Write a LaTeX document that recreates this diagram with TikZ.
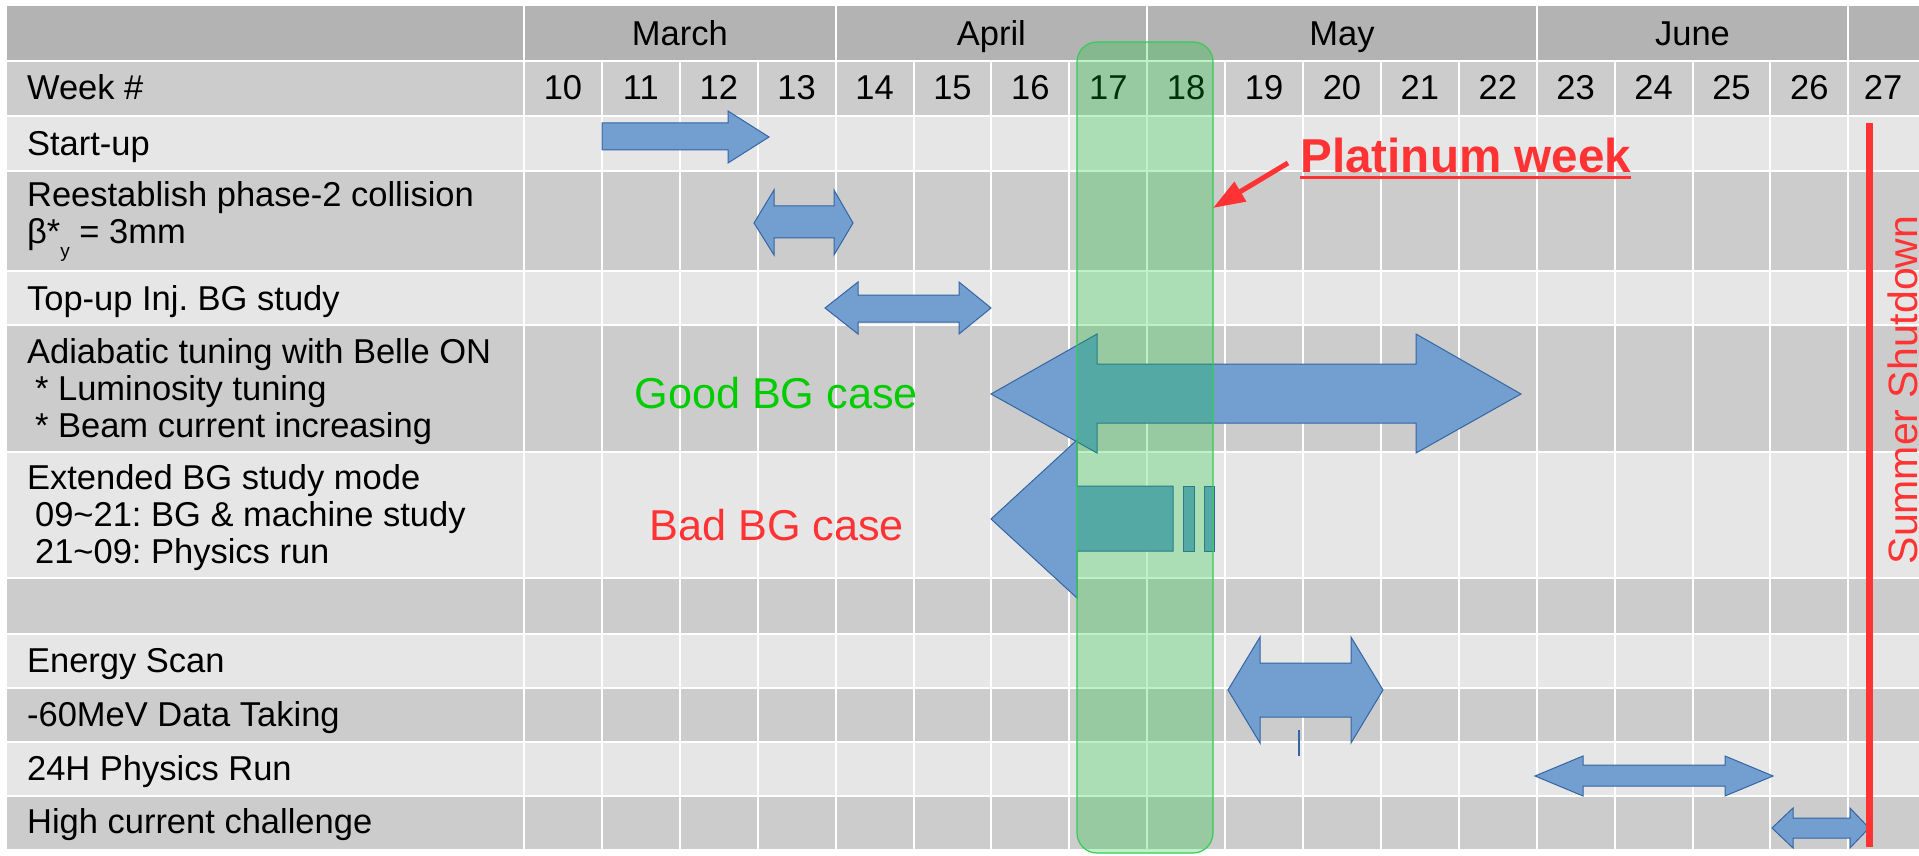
\documentclass[tikz,border=0pt]{standalone}
\usepackage{fontspec}
\setmainfont{Liberation Sans}
\usepackage{tikz}
\usetikzlibrary{arrows.meta}
\frenchspacing

\definecolor{monthgray}{HTML}{B3B3B3}
\definecolor{darkrow}{HTML}{CCCCCC}
\definecolor{lightrow}{HTML}{E6E6E6}
\definecolor{taskblue}{HTML}{729FCF}
\definecolor{taskedge}{HTML}{3465A4}
\definecolor{platgreen}{HTML}{00C828}
\definecolor{platedge}{HTML}{33CC55}
\definecolor{alertred}{HTML}{FF3333}
\definecolor{goodgreen}{HTML}{00CC00}

\begin{document}
\begin{tikzpicture}[x=0.5pt,y=-0.5pt,inner sep=0pt,line join=miter]
                  \tikzstyle{every node}=[font=\fontsize{17.25}{18.5}\selectfont]
                  \tikzstyle{rowlabel}=[anchor=base west,align=left]
                  \tikzstyle{colhead}=[anchor=base]
                  \tikzstyle{gridline}=[white,line width=1pt]
                  \tikzstyle{task}=[fill=taskblue,draw=taskedge,line width=0.5pt]
                  \tikzstyle{band}=[fill=platgreen,fill opacity=0.25,draw=platedge,line width=0.6pt,rounded corners=10pt]
                  \tikzstyle{casetext}=[anchor=base west,font=\fontsize{21.6}{23}\selectfont]

                  \useasboundingbox (0,0) rectangle (1919,856);

                  % rows
                  \fill[monthgray] (7,6) rectangle (1919,61);
                  \fill[darkrow] (7,61) rectangle (1919,116);
                  \foreach \ya/\yb/\rc in {116/171/lightrow,171/271/darkrow,271/325/lightrow,325/452/darkrow,452/578/lightrow,578/634/darkrow,634/688/lightrow,688/742/darkrow,742/796/lightrow,796/849/darkrow}
                    \fill[\rc] (7,\ya) rectangle (1919,\yb);

                  % grid
                  \foreach \y in {61,116,171,271,325,452,578,634,688,742,796}
                    \draw[gridline] (7,\y) -- (1919,\y);
                  \foreach \k in {1,...,17}
                    \draw[gridline] ({524+\k*77.9},61) -- ({524+\k*77.9},849);
                  \foreach \k in {0,4,8,13,17}
                    \draw[gridline] ({524+\k*77.9},6) -- ({524+\k*77.9},849);

                  % months and weeks
                  \node[colhead] (Mar) at (679.8,46) {March};
                  \node[colhead] (Apr) at (991.4,46) {April};
                  \node[colhead] (May) at (1342,46) {May};
                  \node[colhead] (Jun) at (1692.5,46) {June};
                  \foreach \w [count=\k from 0] in {10,...,26}
                    \node[colhead] (W\w) at ({524+(\k+0.5)*77.9},100) {\w};
                  \node[colhead] (W27) at (1883,100) {27};

                  % tasks (multi-line labels sit on their last baseline)
                  \node[rowlabel] (Week) at (26.7,100) {Week \#};
                  \node[rowlabel] (Start) at (26.7,155.5) {Start-up};
                  \node[rowlabel] (Coll) at (26.7,243) {Reestablish phase-2 collision\\β*\raisebox{-7pt}{\fontsize{9.5}{9.5}\selectfont y} = 3mm};
                  \node[rowlabel] (TopUp) at (26.7,310) {Top-up Inj. BG study};
                  \node[rowlabel] (Adia) at (26.7,437) {Adiabatic tuning with Belle ON\\\hspace*{4pt}* Luminosity tuning\\\hspace*{4pt}* Beam current increasing};
                  \node[rowlabel] (Ext) at (26.7,563) {Extended BG study mode\\\hspace*{4pt}09\textasciitilde21: BG \& machine study\\\hspace*{4pt}21\textasciitilde09: Physics run};
                  \node[rowlabel] (EScan) at (26.7,672.7) {Energy Scan};
                  \node[rowlabel] (Data) at (26.7,726.7) {-60MeV Data Taking};
                  \node[rowlabel] (Phys) at (26.7,780) {24H Physics Run};
                  \node[rowlabel] (HiCur) at (26.7,833) {High current challenge};

                  \node[casetext,text=goodgreen] (Good) at (634,408) {Good BG case};
                  \node[casetext,text=alertred] (Bad) at (649,540) {Bad BG case};

                  % arrows
                  \draw[task] (602,123) -- (728,123) -- (728,111) -- (769,137) -- (728,163) -- (728,150) -- (602,150) -- cycle;
                  \draw[task] (754,223) -- (774,190) -- (774,206) -- (834,206) -- (834,190) -- (853,223) -- (834,255) -- (834,238) -- (774,238) -- (774,255) -- cycle;
                  \draw[task] (825,308) -- (858,282) -- (858,295) -- (959,295) -- (959,282) -- (991,308) -- (959,334) -- (959,322) -- (858,322) -- (858,334) -- cycle;
                  \draw[task] (991,394) -- (1097,334) -- (1097,364) -- (1416,364) -- (1416,334) -- (1521,394) -- (1416,453) -- (1416,423) -- (1097,423) -- (1097,453) -- cycle;
                  \draw[task] (991,519) -- (1077,440) -- (1077,486) -- (1173,486) -- (1173,551) -- (1077,551) -- (1077,598) -- cycle;
                  \draw[task] (1183,486) rectangle (1194,551);
                  \draw[task] (1204,486) rectangle (1214,551);
                  \draw[task] (1228,690) -- (1260,637) -- (1260,663) -- (1351,663) -- (1351,637) -- (1383,690) -- (1351,743) -- (1351,717) -- (1260,717) -- (1260,743) -- cycle;
                  \draw[taskedge,line width=0.6pt] (1299,730) -- (1299,756);
                  \draw[task] (1535,776) -- (1583,756) -- (1583,765) -- (1725,765) -- (1725,756) -- (1773,776) -- (1725,796) -- (1725,786) -- (1583,786) -- (1583,796) -- cycle;
                  \draw[task] (1772,828) -- (1793,808) -- (1793,818) -- (1850,818) -- (1850,808) -- (1869,828) -- (1850,848) -- (1850,838) -- (1793,838) -- (1793,848) -- cycle;

                  % platinum week
                  \draw[band] (1077,42) rectangle (1213,853);
                  \coordinate (PWtip) at (1213,208);
                  \node[anchor=base west,text=alertred,font=\fontsize{23.8}{26}\selectfont\bfseries] (PW) at (1300,173) {Platinum week};
                  \draw[alertred,line width=1.5pt] ([yshift=-2.5pt]PW.base west) -- ([yshift=-2.5pt]PW.base east);
                  \draw[alertred,line width=2.5pt,-{Triangle[length=16pt,width=11pt]}] ([xshift=-6pt,yshift=5pt]PW.base west) -- (PWtip);

                  % shutdown
                  \coordinate (ShutTop) at (1869.5,123);
                  \coordinate (ShutBot) at (1869.5,847);
                  \draw[alertred,line width=3.5pt] (ShutTop) -- (ShutBot);
                  \node[rotate=90,anchor=base,text=alertred,font=\fontsize{20.5}{22}\selectfont] (Shut) at (1917,390) {Summer Shutdown};
                \end{tikzpicture}
\end{document}
